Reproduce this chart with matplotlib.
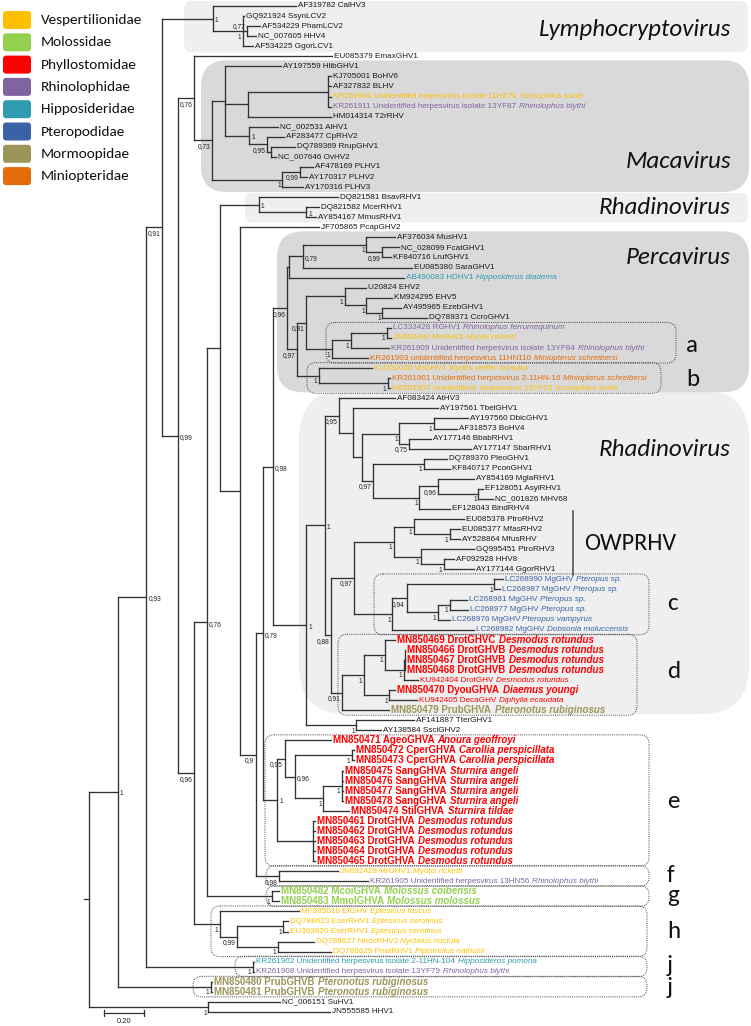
import matplotlib
matplotlib.use("Agg")
import matplotlib.pyplot as plt
import matplotlib.font_manager as fm
from matplotlib.patches import FancyBboxPatch
from matplotlib.transforms import Affine2D
from matplotlib.collections import LineCollection

W, H = 751, 1026

# ------------------------------------------------------------------ DATA
# tree topology, branch lengths (subst./site) and node supports
# (support suffix: "r" = drawn right of node, "a" = drawn left-above node, none = left-below)
lymphocrypto_nwk = "(AF319782:0.414,(GQ921924:0.007,(AF534229:0.064,NC_007605:0.043)0.77a:0.021,AF534225:0.05)1:0.15)1r:0.25"
macavirus_nwk = ("(EU085379:0.687,((AY197559:0.274,((KJ705001:0.015,AF327832:0.015,KR261904:0.015,KR261911:0.015):0.398,"
                 "HM014314:0.413):0.114,(NC_002531:0.144,(AF283477:0.08,(DQ789369:0.124,NC_007646:0.025):0.015)0.95:0.09)1r:0.119):0.065,"
                 "((AF478169:0.06,AY170317:0.035)0.99:0.09,AY170316:0.104)1:0.348)0.73:0.09)0.76:0.08")
small_rhadino_nwk = "(DQ821581:0.393,(DQ821582:0.064,AY854167:0.05)1r:0.236)1r:0.193"
perca_a_nwk = "(((AF376034:0.143,(NC_028099:0.086,KF840716:0.043)0.99:0.079)1:0.314,EU085380:0.543)0.79r:0.071,AB490083:0.571):0.007"
ehv_nwk = "(U20824:0.107,(KM924295:0.129,(AY495965:0.093,DQ789371:0.221)1:0.079)1:0.107)1:0.193"
clade_a_nwk = "(((LC333428:0.021,JN692430:0.021)1:0.179,KR261909:0.193)1:0.093,KR261903:0.179)1:0.129"
clade_b_nwk = "(KU220026:0.264,(KR261901:0.011,KR261907:0.011)1:0.343)1:0.107"
percavirus_nwk = f"({perca_a_nwk},(({ehv_nwk},{clade_a_nwk})0.91:0.043,{clade_b_nwk})0.97:0.05)0.96:0.071"
rhadino_nwk = ("(AF083424:0.279,(AY197561:0.421,(((AY197560:0.171,AF318573:0.114)1:0.171,"
               "(AY177146:0.107,AY177147:0.307)0.75:0.05)1:0.186,((DQ789370:0.114,KF840717:0.129)1:0.25,"
               "((AY854169:0.179,(EF128051:0.021,NC_001826:0.071)1:0.2)0.96:0.093,EF128043:0.15)1:0.229)0.97:0.057):0.043):0.071)0.95:0.071")
owprhv_nwk = ("((EU085378:0.25,(EU085377:0.05,AY528864:0.05)1:0.179)1:0.1,"
              "(GQ995451:0.264,(AF092928:0.05,AY177144:0.15)1:0.114)1:0.136)1:0.2")
clade_c_nwk = ("(((LC268990:0.043,LC268987:0.029)1:0.436,((LC268981:0.086,LC268977:0.093)1:0.057,"
               "LC268976:0.057)1:0.157)0.94:0.071,LC268982:0.407)1:0.193")
clade_d_nwk = ("(((MN850469:0.05,((MN850466:0.004,MN850467:0.004,MN850468:0.004):0.004,KU942404:0.071)1:0.093)1:0.107,"
               "(MN850470:0.029,KU942405:0.136)1:0.129)1:0.107,MN850479:0.236)0.91:0.057")
big_rhadino_nwk = (f"(({rhadino_nwk},(({owprhv_nwk},{clade_c_nwk})0.97:0.114,{clade_d_nwk})0.88:0.029)1r:0.093,"
                   f"(AF141887:0.286,AY138584:0.121)1:0.25)1r:0.164")
clade_e_nwk = ("((MN850471:0.229,((MN850472:0.007,MN850473:0.007)1:0.286,((MN850475:0.007,MN850476:0.007,"
               "MN850477:0.007,MN850478:0.007)1:0.093,MN850474:0.129)1:0.143)0.96r:0.05)0.95:0.036,"
               "(MN850461:0.007,MN850462:0.007,MN850463:0.007,MN850464:0.007,MN850465:0.007):0.179)1r:0.071")
clade_f_nwk = "(JN692429:0.293,KR261905:0.443)0.98:0.114"
clade_g_nwk = "(MN850482:0.036,MN850483:0.036)1:0.321"
clade_h_nwk = "(MF385016:0.393,((DQ788623:0.021,EU363820:0.021)1:0.229,(DQ788627:0.179,DQ788629:0.264)1:0.2)0.99:0.086)1:0.129"
clade_i_nwk = "(KR261902:0.007,KR261908:0.007)1:0.529"
clade_j_nwk = "(MN850480:0.007,MN850481:0.007)1:0.464"
outgroup_nwk = "(NC_006151:0.357,JN555585:0.607)1:0.593"

inner_nwk = (f"(({small_rhadino_nwk},(JF705865:0.393,((({percavirus_nwk},{big_rhadino_nwk})0.98r:0.05,"
             f"{clade_e_nwk})0.79r:0.036,{clade_f_nwk})0.9:0.079):0.1):0.064,{clade_g_nwk})0.76r:0.064")
TREE_NEWICK = (f"(((({lymphocrypto_nwk},({macavirus_nwk},({inner_nwk},{clade_h_nwk})0.96:0.079)0.99r:0.079)0.91:0.079,"
               f"{clade_i_nwk})0.93r:0.143,{clade_j_nwk})1r:0.143,{outgroup_nwk});")

accessions = ["AF319782", "GQ921924", "AF534229", "NC_007605", "AF534225", "EU085379", "AY197559", "KJ705001",
              "AF327832", "KR261904", "KR261911", "HM014314", "NC_002531", "AF283477", "DQ789369", "NC_007646",
              "AF478169", "AY170317", "AY170316", "DQ821581", "DQ821582", "AY854167", "JF705865", "AF376034",
              "NC_028099", "KF840716", "EU085380", "AB490083", "U20824", "KM924295", "AY495965", "DQ789371",
              "LC333428", "JN692430", "KR261909", "KR261903", "KU220026", "KR261901", "KR261907", "AF083424",
              "AY197561", "AY197560", "AF318573", "AY177146", "AY177147", "DQ789370", "KF840717", "AY854169",
              "EF128051", "NC_001826", "EF128043", "EU085378", "EU085377", "AY528864", "GQ995451", "AF092928",
              "AY177144", "LC268990", "LC268987", "LC268981", "LC268977", "LC268976", "LC268982", "MN850469",
              "MN850466", "MN850467", "MN850468", "KU942404", "MN850470", "KU942405", "MN850479", "AF141887",
              "AY138584", "MN850471", "MN850472", "MN850473", "MN850475", "MN850476", "MN850477", "MN850478",
              "MN850474", "MN850461", "MN850462", "MN850463", "MN850464", "MN850465", "JN692429", "KR261905",
              "MN850482", "MN850483", "MF385016", "DQ788623", "EU363820", "DQ788627", "DQ788629", "KR261902",
              "KR261908", "MN850480", "MN850481", "NC_006151", "JN555585"]
virus_names = ["CalHV3", "SsynLCV2", "PhamLCV2", "HHV4", "GgorLCV1", "EmaxGHV1", "HlibGHV1", "BoHV6",
               "BLHV", "Unidentified herpesvirus isolate 11HZ76", "Unidentified herpesvirus isolate 13YF87", "T2rRHV",
               "AlHV1", "CpRHV2", "RrupGHV1", "OvHV2", "PLHV1", "PLHV2", "PLHV3", "BsavRHV1", "McerRHV1", "MmusRHV1",
               "PcapGHV2", "MusHV1", "FcatGHV1", "LrufGHV1", "SaraGHV1", "HDHV1", "EHV2", "EHV5", "EzebGHV1",
               "CcroGHV1", "RGHV1", "MrGHV2", "Unidentified herpesvirus isolate 13YF84",
               "unidentified herpesvirus 11HN110", "VeGHV1", "Unidentified herpesvirus 2-11HN-16",
               "Unidentified  herpesvirus 13YF15", "AtHV3", "TbelGHV1", "DbicGHV1", "BoHV4", "BbabRHV1",
               "SbarRHV1", "PleoGHV1", "PconGHV1", "MglaRHV1", "AsylRHV1", "MHV68", "BindRHV4", "PtroRHV2",
               "MfasRHV2", "MfusRHV", "PtroRHV3", "HHV8", "GgorRHV1", "MgGHV", "MgGHV", "MgGHV", "MgGHV", "MgGHV",
               "MgGHV", "DrotGHVC", "DrotGHVB", "DrotGHVB", "DrotGHVB", "DrotGHV", "DyouGHVA", "DecaGHV",
               "PrubGHVA", "TterGHV1", "SsciGHV2", "AgeoGHVA", "CperGHVA", "CperGHVA", "SangGHVA", "SangGHVA",
               "SangGHVA", "SangGHVA", "StilGHVA", "DrotGHVA", "DrotGHVA", "DrotGHVA", "DrotGHVA", "DrotGHVA",
               "MrGHV1", "Unidentified herpesvirus 13HN56", "McoiGHVA", "MmolGHVA", "EfGHV", "EserRHV1",
               "EserRHV1", "NnocRHV2", "PnatRHV1", "Unidentified herpesvirus isolate 2-11HN-104",
               "Unidentified herpesvirus isolate 13YF79", "PrubGHVB", "PrubGHVB", "SuHV1", "HHV1"]
host_species = [""] * 9 + ["Scotophilus kuhlii", "Rhinolophus blythi"] + [""] * 16 + ["Hipposideros diadema"] + \
               [""] * 4 + ["Rhinolophus ferrumequinum", "Myotis ricketti", "Rhinolophus blythi",
                           "Miniopterus schreibersi", "Myotis velifer incautus", "Miniopterus schreibersi",
                           "Scotophilus kuhlii"] + [""] * 18 + \
               ["Pteropus sp.", "Pteropus sp.", "Pteropus sp.", "Pteropus sp.", "Pteropus vampyrus",
                "Dobsonia moluccensis", "Desmodus rotundus", "Desmodus rotundus", "Desmodus rotundus",
                "Desmodus rotundus", "Desmodus rotundus", "Diaemus youngi", "Diphylla ecaudata",
                "Pteronotus rubiginosus", "", "", "Anoura geoffroyi", "Carollia perspicillata",
                "Carollia perspicillata", "Sturnira angeli", "Sturnira angeli", "Sturnira angeli", "Sturnira angeli",
                "Sturnira tildae", "Desmodus rotundus", "Desmodus rotundus", "Desmodus rotundus",
                "Desmodus rotundus", "Desmodus rotundus", "Myotis ricketti", "Rhinolophus blythi",
                "Molossus coibensis", "Molossus molossus", "Eptesicus fuscus", "Eptesicus serotinus",
                "Eptesicus serotinus", "Nyctalus noctula", "Pipistrellus nathusii", "Hipposideros pomona",
                "Rhinolophus blythi", "Pteronotus rubiginosus", "Pteronotus rubiginosus", "", ""]
host_family = [""] * 9 + ["Vespertilionidae", "Rhinolophidae"] + [""] * 16 + ["Hipposideridae"] + [""] * 4 + \
              ["Rhinolophidae", "Vespertilionidae", "Rhinolophidae", "Miniopteridae", "Vespertilionidae",
               "Miniopteridae", "Vespertilionidae"] + [""] * 18 + ["Pteropodidae"] * 6 + ["Phyllostomidae"] * 7 + \
              ["Mormoopidae", "", ""] + ["Phyllostomidae"] * 13 + ["Vespertilionidae", "Rhinolophidae",
                                                                  "Molossidae", "Molossidae"] + \
              ["Vespertilionidae"] * 5 + ["Hipposideridae", "Rhinolophidae", "Mormoopidae", "Mormoopidae", "", ""]
new_sequences = ["MN850469", "MN850466", "MN850467", "MN850468", "MN850470", "MN850479", "MN850471", "MN850472",
                 "MN850473", "MN850475", "MN850476", "MN850477", "MN850478", "MN850474", "MN850461", "MN850462",
                 "MN850463", "MN850464", "MN850465", "MN850482", "MN850483", "MN850480", "MN850481"]

legend_families = ["Vespertilionidae", "Molossidae", "Phyllostomidae", "Rhinolophidae", "Hipposideridae",
                   "Pteropodidae", "Mormoopidae", "Miniopteridae"]
family_colors = ["#FFC000", "#92D050", "#FF0000", "#8064A2", "#2F9BAE", "#3A62A7", "#9C9559", "#E46C0A"]

genus_boxes = [("Lymphocryptovirus", "AF319782", "AF534225"),
               ("Macavirus", "AY197559", "AY170316"),
               ("Rhadinovirus", "DQ821581", "AY854167"),
               ("Rhadinovirus", "AF083424", "MN850479"),
               ("Percavirus", "AF376034", "KR261907")]
bat_clades = [("a", "LC333428", "KR261903"), ("b", "KU220026", "KR261907"), ("c", "LC268990", "LC268982"),
              ("d", "MN850469", "MN850479"), ("e", "MN850471", "MN850465"), ("f", "JN692429", "KR261905"),
              ("g", "MN850482", "MN850483"), ("h", "MF385016", "DQ788629"), ("j", "KR261902", "KR261908"),
              ("j", "MN850480", "MN850481")]
SCALE_BAR = 0.20

# ------------------------------------------------------------------ STYLE / LAYOUT
avail = {f.name for f in fm.fontManager.ttflist}
def pick(*names):
    for n in names:
        if n in avail:
            return n
    return "DejaVu Sans"
NARROW = pick("Liberation Sans Narrow", "Arial Narrow", "DejaVu Sans Condensed", "Liberation Sans")
REGULAR = pick("Liberation Sans", "Arial", "DejaVu Sans")
HUMAN = pick("Carlito", "Lato", "Open Sans", "DejaVu Sans")

ROOT_PX, PX_PER_UNIT = 89.0, 201.0
Y0_PX, ROW_PX = 6.0, 10.06
genus_style = {  # left, right, face, rounding, pad_top, pad_bottom, title_y
    0: (184, 748, "#EFEFEF", 8, 5, 6, 30),
    1: (201, 749, "#D9D9D9", 26, 6, 5, 162),
    2: (245, 748, "#EFEFEF", 6, 4, 5, 207),
    3: (299, 749, "#EFEFEF", 48, 8, 4, 450),
    4: (277, 749, "#D9D9D9", 26, 6, 4, 258),
}
clade_style = {  # left, right, letter_x, letter_y
    0: (326, 676, 686, 345), 1: (307, 661, 686, 380), 2: (374, 649, 667, 603), 3: (338, 637, 667, 672),
    4: (265, 649, 667, 802), 5: (266, 649, 667, 875), 6: (266, 649, 667, 895), 7: (211, 647, 667, 932),
    8: (235, 647, 667, 966), 9: (193, 647, 667, 988)}
LINE_C = "#333333"
NORMAL_SIZE, BOLD_SIZE, SUPPORT_SIZE = 5.9, 7.0, 4.8

# ------------------------------------------------------------------ NEWICK
def parse_newick(s):
    pos = 0
    def node():
        nonlocal pos
        n = {"children": [], "name": "", "len": 0.0, "support": ""}
        if s[pos] == "(":
            pos += 1
            while True:
                n["children"].append(node())
                if s[pos] == ",":
                    pos += 1
                    continue
                pos += 1
                break
            st = pos
            while s[pos] not in ":,);":
                pos += 1
            n["support"] = s[st:pos]
        else:
            st = pos
            while s[pos] not in ":,);":
                pos += 1
            n["name"] = s[st:pos]
        if s[pos] == ":":
            pos += 1
            st = pos
            while s[pos] not in ",);":
                pos += 1
            n["len"] = float(s[st:pos])
        return n
    return node()

root = parse_newick(TREE_NEWICK)
leaves, internals = [], []
def layout(n, x):
    n["x"] = x + n["len"]
    if n["children"]:
        for c in n["children"]:
            layout(c, n["x"])
        n["y"] = (n["children"][0]["y"] + n["children"][-1]["y"]) / 2
        internals.append(n)
    else:
        n["y"] = float(len(leaves))
        leaves.append(n)
layout(root, 0.0)
leaf_by_acc = {l["name"]: l for l in leaves}

# ------------------------------------------------------------------ FIGURE
fig = plt.figure(figsize=(W / 100, H / 100), dpi=100)
ax = fig.add_axes([0, 0, 1, 1])
ax.set_xlim(-ROOT_PX / PX_PER_UNIT, (W - ROOT_PX) / PX_PER_UNIT)
ax.set_ylim((H - Y0_PX) / ROW_PX, -Y0_PX / ROW_PX)
ax.axis("off")
PIX = Affine2D().scale(1, -1).translate(0, H)  # top-left pixel coordinates
def ypx(idx):
    return Y0_PX + idx * ROW_PX

for gi, (title, a, b) in enumerate(genus_boxes):
    left, right, face, rr, pt, pb, ty = genus_style[gi]
    top, bot = ypx(leaf_by_acc[a]["y"]) - pt, ypx(leaf_by_acc[b]["y"]) + pb
    ax.add_patch(FancyBboxPatch((left, top), right - left, bot - top,
                                boxstyle=f"round,pad=0,rounding_size={rr}", transform=PIX,
                                fc=face, ec="none", zorder=0))
    ax.text(731, ty, title, transform=PIX, ha="right", va="center", fontsize=18, style="italic",
            family=HUMAN, color="#111111", zorder=1)

ow_top = ypx(leaf_by_acc["EU085378"]["y"]) - 8
ow_bot = ypx(leaf_by_acc["AY177144"]["y"]) + 6
ax.plot([573, 573], [ow_top, ow_bot], transform=PIX, color="#555555", lw=1.2, zorder=1)
ax.text(584, (ow_top + ow_bot) / 2, "OWPRHV", transform=PIX, ha="left", va="center", fontsize=17.5,
        family=HUMAN, color="#111111")

for ci, (letter, a, b) in enumerate(bat_clades):
    left, right, lx, ly = clade_style[ci]
    top, bot = ypx(leaf_by_acc[a]["y"]) - 5.5, ypx(leaf_by_acc[b]["y"]) + 5
    ax.add_patch(FancyBboxPatch((left, top), right - left, bot - top,
                                boxstyle="round,pad=0,rounding_size=9", transform=PIX,
                                fc="none", ec="#444444", lw=0.7, ls=(0, (1, 1.2)), zorder=2))
    ax.text(lx, ly, letter, transform=PIX, ha="left", va="center", fontsize=18, family=HUMAN,
            color="#111111")

segs = []
for n in internals:
    segs.append([(n["x"], n["children"][0]["y"]), (n["x"], n["children"][-1]["y"])])
    for c in n["children"]:
        segs.append([(n["x"], c["y"]), (c["x"], c["y"])])
segs.append([(root["x"] - 5 / PX_PER_UNIT, root["y"]), (root["x"], root["y"])])
ax.add_collection(LineCollection(segs, colors=LINE_C, linewidths=0.95, capstyle="projecting", zorder=3))

for n in internals:
    sup = n["support"]
    if not sup:
        continue
    txt = sup.rstrip("ra").replace(".", ",")
    if sup.endswith("r"):
        ax.text(n["x"] + 2 / PX_PER_UNIT, n["y"] + 0.2, txt, ha="left", va="center", fontsize=SUPPORT_SIZE,
                family=REGULAR, color="#222222", zorder=4)
    elif sup.endswith("a"):
        ax.text(n["x"] - 1.5 / PX_PER_UNIT, n["y"] - 0.45, txt, ha="right", va="center", fontsize=SUPPORT_SIZE,
                family=REGULAR, color="#222222", zorder=4)
    else:
        ax.text(n["x"] - 1.5 / PX_PER_UNIT, n["y"] + 0.6, txt, ha="right", va="center", fontsize=SUPPORT_SIZE,
                family=REGULAR, color="#222222", zorder=4)

fig.canvas.draw()
renderer = fig.canvas.get_renderer()
inv = ax.transData.inverted()
fam_col = dict(zip(legend_families, family_colors))
for i, acc in enumerate(accessions):
    leaf = leaf_by_acc[acc]
    bold = acc in new_sequences
    col = fam_col.get(host_family[i], "#1a1a1a")
    size = BOLD_SIZE if bold else NORMAL_SIZE
    weight = "bold" if bold else "normal"
    fam = NARROW if bold else REGULAR
    x0 = leaf["x"] + 2 / PX_PER_UNIT
    t = ax.text(x0, leaf["y"], f"{acc} {virus_names[i]}", ha="left", va="center", fontsize=size,
                fontweight=weight, family=fam, color=col, zorder=4)
    if host_species[i]:
        bb = t.get_window_extent(renderer=renderer)
        xe = inv.transform((bb.x1, bb.y0))[0]
        ax.text(xe + (3.5 if bold else 2.5) / PX_PER_UNIT, leaf["y"], host_species[i], ha="left", va="center",
                fontsize=size, fontweight=weight, style="italic", family=fam, color=col, zorder=4)

sb_x0 = (103.5 - ROOT_PX) / PX_PER_UNIT
sb_y = (1013 - Y0_PX) / ROW_PX
ax.plot([sb_x0, sb_x0 + SCALE_BAR], [sb_y, sb_y], color=LINE_C, lw=0.9)
for xx in (sb_x0, sb_x0 + SCALE_BAR):
    ax.plot([xx, xx], [sb_y - 0.25, sb_y + 0.25], color=LINE_C, lw=0.9)
ax.text(sb_x0 + SCALE_BAR / 2, sb_y + 0.85, f"{SCALE_BAR:.2f}", ha="center", va="center", fontsize=5.5,
        family=REGULAR, color="#222222")

for k, (fam, colr) in enumerate(zip(legend_families, family_colors)):
    cy = 20 + k * 22.3
    ax.add_patch(FancyBboxPatch((3, cy - 9), 28, 18, boxstyle="round,pad=0,rounding_size=3", transform=PIX,
                                fc=colr, ec="none", zorder=2))
    ax.text(41, cy, fam, transform=PIX, ha="left", va="center", fontsize=11, family=HUMAN,
            color="#111111")

fig.savefig("out.png", dpi=100)
